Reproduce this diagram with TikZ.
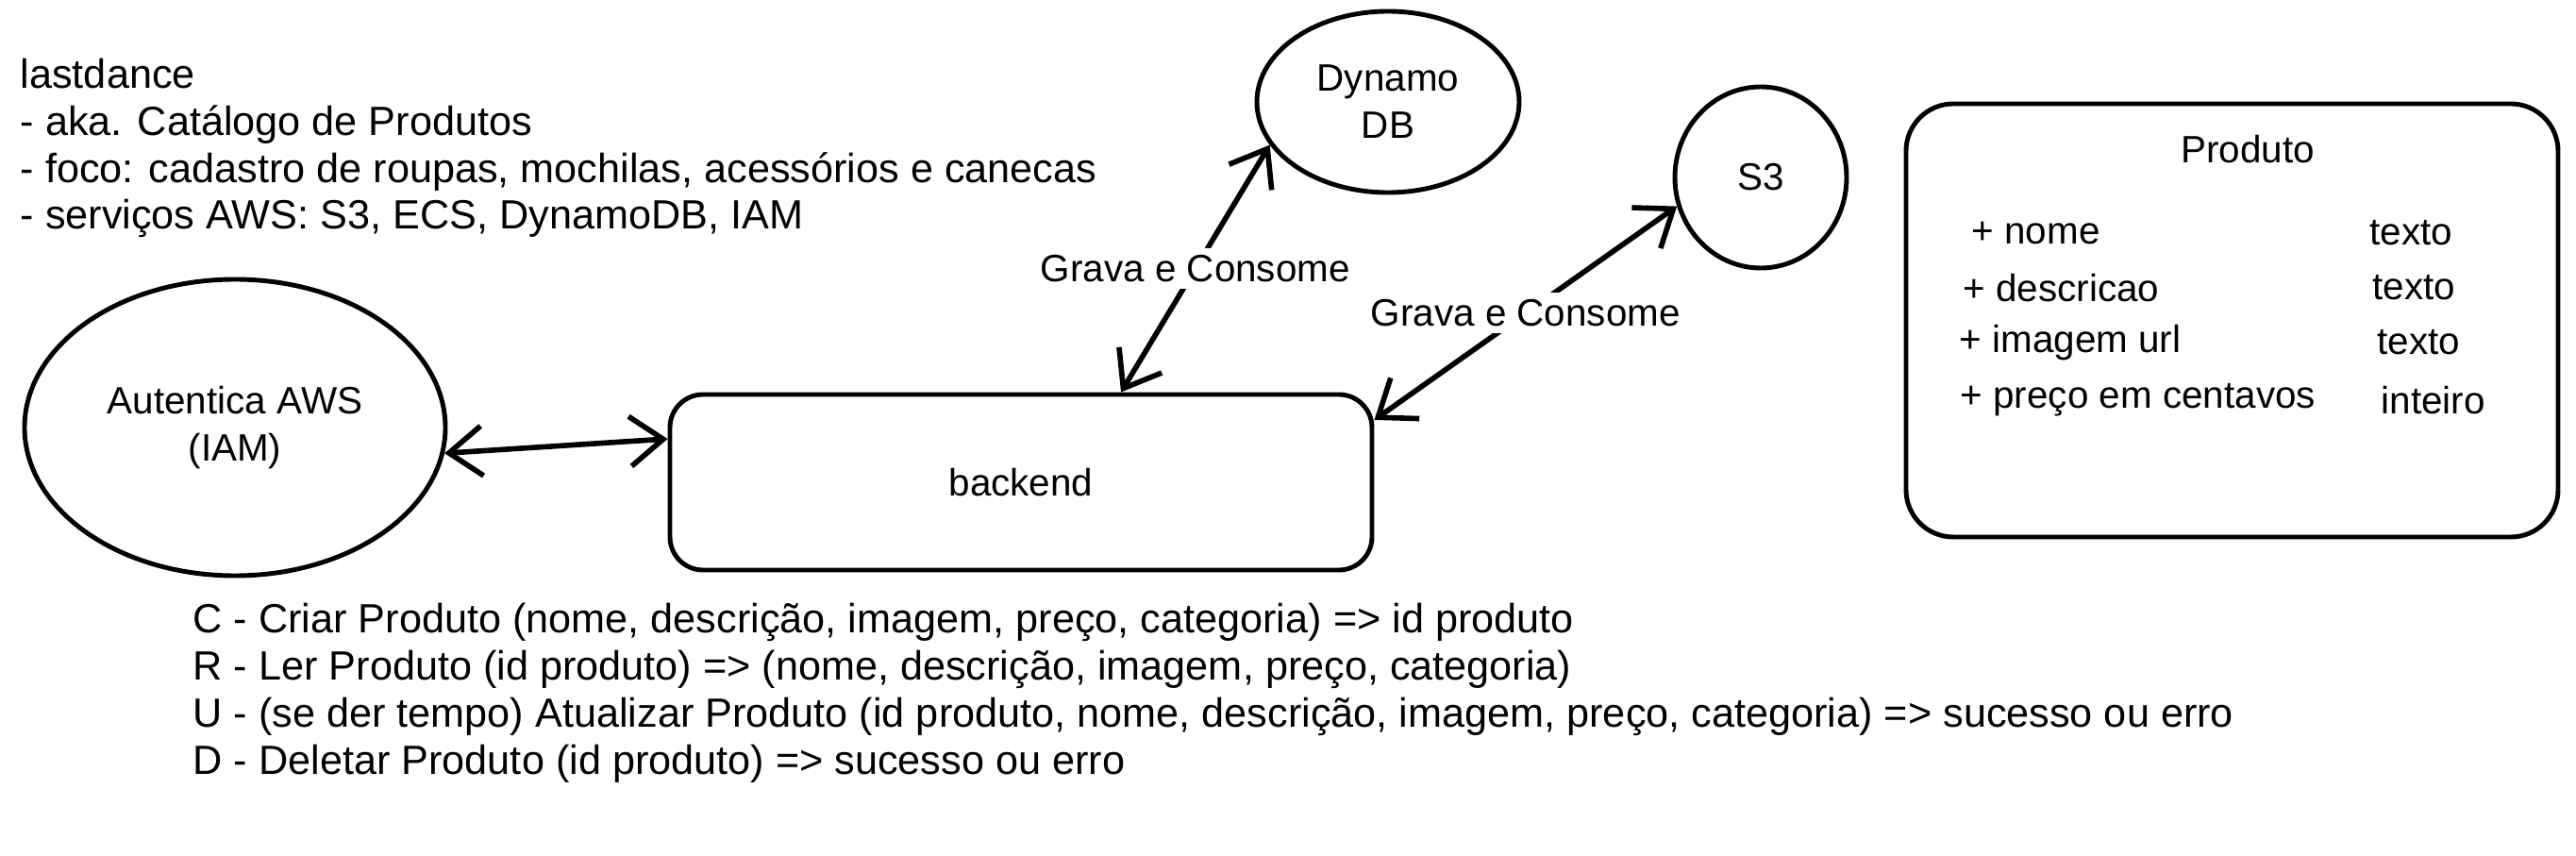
\documentclass[tikz,border=0pt]{standalone}
\usepackage{fontspec}
\setmainfont{Liberation Sans}
\usetikzlibrary{arrows.meta,shapes.geometric}
\tikzset{
  every node/.style={font=\fontsize{11.5}{14.2}\selectfont},
  servico/.style={draw,ellipse,line width=1.4pt,inner sep=0pt,align=center},
  caixa/.style={draw,rectangle,line width=1.4pt,inner sep=0pt},
  ligacao/.style={{Straight Barb[length=10pt,width=15pt]}-{Straight Barb[length=10pt,width=15pt]},line width=1.6pt},
  rotulo/.style={fill=white,inner sep=2pt},
  texto/.style={anchor=west,inner sep=0pt,align=left},
  bloco/.style={texto,font=\fontsize{12.3}{14.2}\selectfont}
}
\begin{document}
\begin{tikzpicture}
\useasboundingbox (0,0) rectangle (27.3,9.06);
% notas do projeto
\node[bloco] (notas) at (0.21,7.49) {lastdance\\
- aka. Catálogo de Produtos\\
- foco: cadastro de roupas, mochilas, acessórios e canecas\\
- serviços AWS: S3, ECS, DynamoDB, IAM};
% servicos
\node[servico,minimum width=2.78cm,minimum height=1.92cm] (dynamo) at (14.71,7.98) {Dynamo\\DB};
\node[servico,minimum width=1.82cm,minimum height=1.92cm] (s3) at (18.66,7.18) {S3};
\node[servico,minimum width=4.46cm,minimum height=3.14cm] (iam) at (2.49,4.53) {Autentica AWS\\(IAM)};
\node[caixa,rounded corners=0.35cm,minimum width=7.44cm,minimum height=1.86cm] (backend) at (10.82,3.95) {backend};
% ligacoes
\draw[ligacao] (iam.-7) -- (backend.173);
\draw[ligacao] (dynamo.200) -- node[rotulo] (rotdynamo) {Grava e Consome} (backend.42);
\draw[ligacao] (s3.199) -- node[rotulo] (rots3) {Grava e Consome} (backend.10);
% entidade Produto
\node[caixa,rounded corners=0.5cm,minimum width=6.91cm,minimum height=4.59cm] (produto) at (23.655,5.665) {};
\node (titulo) at (23.82,7.48) {Produto};
\foreach \i/\campo/\tipo/\xa/\xb/\y in {1/nome/texto/20.89/25.11/6.59,
    2/descricao/texto/20.80/25.14/6.01,
    3/imagem url/texto/20.76/25.19/5.43,
    4/preço em centavos/inteiro/20.77/25.23/4.82}{
  \node[texto] (campo\i) at (\xa,\y) {+ \campo};
  \node[texto] (tipo\i) at (\xb,\y) {\tipo};
}
% operacoes CRUD
\node[bloco] (crud) at (2.04,1.72) {C - Criar Produto (nome, descrição, imagem, preço, categoria) => id produto\\
R - Ler Produto (id produto) => (nome, descrição, imagem, preço, categoria)\\
U - (se der tempo) Atualizar Produto (id produto, nome, descrição, imagem, preço, categoria) => sucesso ou erro\\
D - Deletar Produto (id produto) => sucesso ou erro};
\end{tikzpicture}
\end{document}
